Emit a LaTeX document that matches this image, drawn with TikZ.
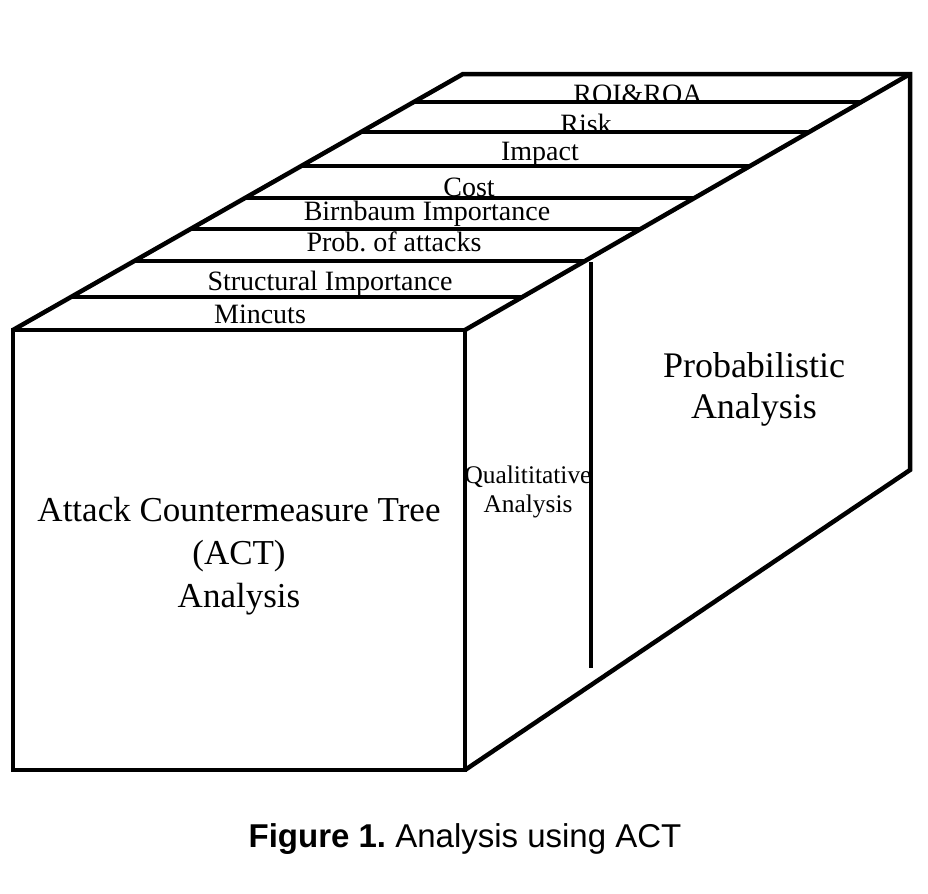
\documentclass[tikz,border=0pt]{standalone}
\usepackage{fontspec}
\setmainfont{Liberation Serif}
\setsansfont{Liberation Sans}
\usetikzlibrary{calc}
\frenchspacing

\begin{document}
\begin{tikzpicture}[x=0.5pt,y=-0.5pt,line width=2.25pt,line join=miter,
    face/.style={align=center,inner sep=0pt},
    band/.style={font=\fontsize{14}{16}\selectfont,anchor=base,inner sep=0pt}]
\useasboundingbox (0,0) rectangle (928,894);
% corners of the box
\coordinate (ftl) at (13,330);
\coordinate (ftr) at (465,330);
\coordinate (fbr) at (465,770);
\coordinate (btl) at (463,74);
\coordinate (btr) at (910,74);
\coordinate (bbr) at (910,470);
\coordinate (qtop) at (591,262);
\coordinate (qbot) at (591,668);

% labels of the bands (the lines go over them)
\node[band] (roi) at (638,104) {ROI\&ROA};
\node[band] (risk) at (586,133.5) {Risk};
\node[band] (impact) at (540,160.5) {Impact};
\node[band] (cost) at (469,196.5) {Cost};
\node[band] (birn) at (427,220.5) {Birnbaum Importance};
\node[band] (prob) at (394,251) {Prob. of attacks};
\node[band] (struct) at (330,290) {Structural Importance};
\node[band] (mincuts) at (260,323) {Mincuts};

\draw (ftl) rectangle (fbr);
\draw (ftl) -- (btl) -- (btr) -- (bbr) -- (fbr);
\draw (ftr) -- (btr);
% bands on the top face
\foreach \t in {0.129,0.270,0.395,0.516,0.641,0.773,0.891}
  \draw ($(ftl)!\t!(btl)$) -- ($(ftr)!\t!(btr)$);
\draw (qtop) -- (qbot);

\node[face,font=\fontsize{17.5}{21.5}\selectfont] (act) at (239,556.5)
  {Attack Countermeasure Tree\\(ACT)\\Analysis};
\node[face,font=\fontsize{12.7}{14.5}\selectfont] (qual) at (528,491.5)
  {Qualititative\\Analysis};
\node[face,font=\fontsize{18}{20.5}\selectfont] (probab) at (754,389)
  {Probabilistic\\Analysis};

\node[font=\sffamily\fontsize{16.5}{20}\selectfont,anchor=base,inner sep=0pt] (caption)
  at (465,847) {\textbf{Figure 1.} Analysis using ACT};
\end{tikzpicture}
\end{document}
